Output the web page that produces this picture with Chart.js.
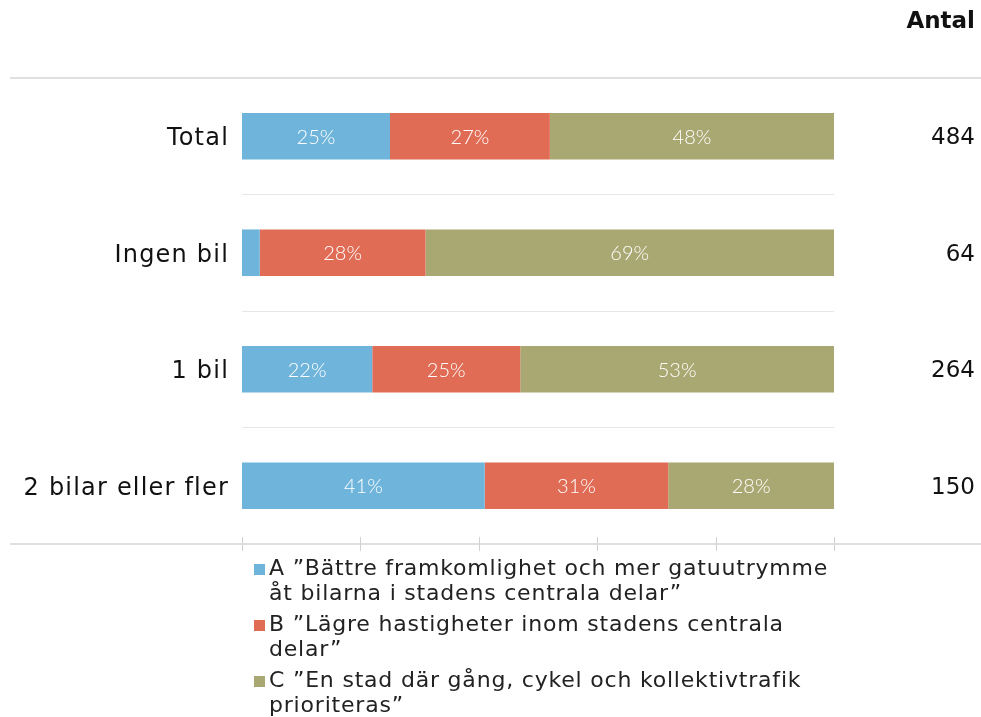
<!DOCTYPE html>
<html>
<head>
<meta charset="utf-8">
<script src="https://cdn.jsdelivr.net/npm/chart.js@4.4.1/dist/chart.umd.min.js"></script>
<style>
  html, body { margin: 0; padding: 0; background: #fff; }
  #wrap { position: relative; width: 981px; height: 717px; }
</style>
</head>
<body>
<div id="wrap"><canvas id="chart" width="981" height="717"></canvas></div>
<script>
// data
const categories = ['Total', 'Ingen bil', '1 bil', '2 bilar eller fler'];
const counts = [484, 64, 264, 150];
const seriesA = [25, 3, 22, 41];
const seriesB = [27, 28, 25, 31];
const seriesC = [48, 69, 53, 28];
const seriesLabels = [
  'A ”Bättre framkomlighet och mer gatuutrymme åt bilarna i stadens centrala delar”',
  'B ”Lägre hastigheter inom stadens centrala delar”',
  'C ”En stad där gång, cykel och kollektivtrafik prioriteras”',
];
const colors = ['#6fb5db', '#e06c55', '#aaa872'];

const FONT = '"DejaVu Sans", sans-serif';

// the original face is wide, so open up the spacing a little
const spacing = {
  id: 'spacing',
  beforeDraw(chart) { chart.ctx.letterSpacing = '1.2px'; },
};

// frame lines, counts column, x tick marks and the wrapped legend
const extras = {
  id: 'extras',
  afterDraw(chart) {
    const { ctx, chartArea: area, scales: { x, y } } = chart;
    ctx.save();

    ctx.strokeStyle = '#e0e0e0';
    ctx.lineWidth = 2;
    [area.top, area.bottom].forEach((yy) => {
      ctx.beginPath();
      ctx.moveTo(10, yy);
      ctx.lineTo(981, yy);
      ctx.stroke();
    });

    ctx.strokeStyle = '#d0d0d0';
    ctx.lineWidth = 1;
    x.ticks.forEach((t, i) => {
      const px = Math.round(x.getPixelForTick(i)) + 0.5;
      ctx.beginPath();
      ctx.moveTo(px, area.bottom - 7);
      ctx.lineTo(px, area.bottom + 7);
      ctx.stroke();
    });

    ctx.fillStyle = '#111';
    ctx.textAlign = 'right';
    ctx.textBaseline = 'middle';
    ctx.letterSpacing = '0px';
    ctx.font = `bold 23px ${FONT}`;
    ctx.fillText('Antal', 975, 22);
    ctx.font = `23px ${FONT}`;
    counts.forEach((c, i) => ctx.fillText(String(c), 975, y.getPixelForValue(i) + 2));

    // legend, wrapped like the original
    ctx.textAlign = 'left';
    ctx.textBaseline = 'alphabetic';
    ctx.letterSpacing = '0.8px';
    ctx.font = `22px ${FONT}`;
    const maxW = 572;
    let base = 575;
    chart.data.datasets.forEach((ds) => {
      const words = ds.label.split(' ');
      const lines = [];
      let line = '';
      words.forEach((w) => {
        const test = line ? line + ' ' + w : w;
        if (ctx.measureText(test).width > maxW && line) {
          lines.push(line);
          line = w;
        } else {
          line = test;
        }
      });
      lines.push(line);
      ctx.fillStyle = ds.backgroundColor;
      ctx.fillRect(254, base - 11, 11, 11);
      ctx.fillStyle = '#222';
      lines.forEach((l, j) => ctx.fillText(l, 269, base + j * 25));
      base += lines.length * 25 + 6;
    });

    ctx.restore();
  },
};

// percentage labels inside the segments
const segLabels = {
  id: 'segLabels',
  afterDatasetsDraw(chart) {
    const { ctx } = chart;
    ctx.save();
    ctx.letterSpacing = '0px';
    ctx.fillStyle = '#fff';
    ctx.font = '300 20px Lato, sans-serif';
    ctx.textAlign = 'center';
    ctx.textBaseline = 'middle';
    chart.data.datasets.forEach((ds, di) => {
      chart.getDatasetMeta(di).data.forEach((bar, i) => {
        const v = ds.data[i];
        if (v < 5) return;
        ctx.fillText(v + '%', (bar.x + bar.base) / 2, bar.y + 1);
      });
    });
    ctx.restore();
  },
};

new Chart(document.getElementById('chart'), {
  type: 'bar',
  data: {
    labels: categories,
    datasets: [seriesA, seriesB, seriesC].map((d, i) => ({
      label: seriesLabels[i],
      data: d,
      backgroundColor: colors[i],
      borderWidth: 0,
      categoryPercentage: 1,
      barPercentage: 0.4,
    })),
  },
  options: {
    indexAxis: 'y',
    responsive: false,
    animation: false,
    layout: { padding: { left: 10, right: 147, top: 78, bottom: 173 } },
    scales: {
      x: {
        display: false,
        stacked: true,
        min: 0,
        max: 100,
        ticks: { stepSize: 20 },
      },
      y: {
        stacked: true,
        border: { display: false },
        grid: {
          offset: true,
          drawTicks: false,
          color: (c) => (c.index === 0 || c.index === categories.length ? 'rgba(0,0,0,0)' : '#e6e6e6'),
          lineWidth: 1,
        },
        ticks: {
          padding: 13,
          labelOffset: 3,
          color: '#111',
          font: { family: 'DejaVu Sans', size: 24 },
        },
        afterFit(scale) { scale.width = 232; },
      },
    },
    plugins: {
      legend: { display: false },
      tooltip: { enabled: false },
    },
  },
  plugins: [spacing, segLabels, extras],
});
</script>
</body>
</html>
